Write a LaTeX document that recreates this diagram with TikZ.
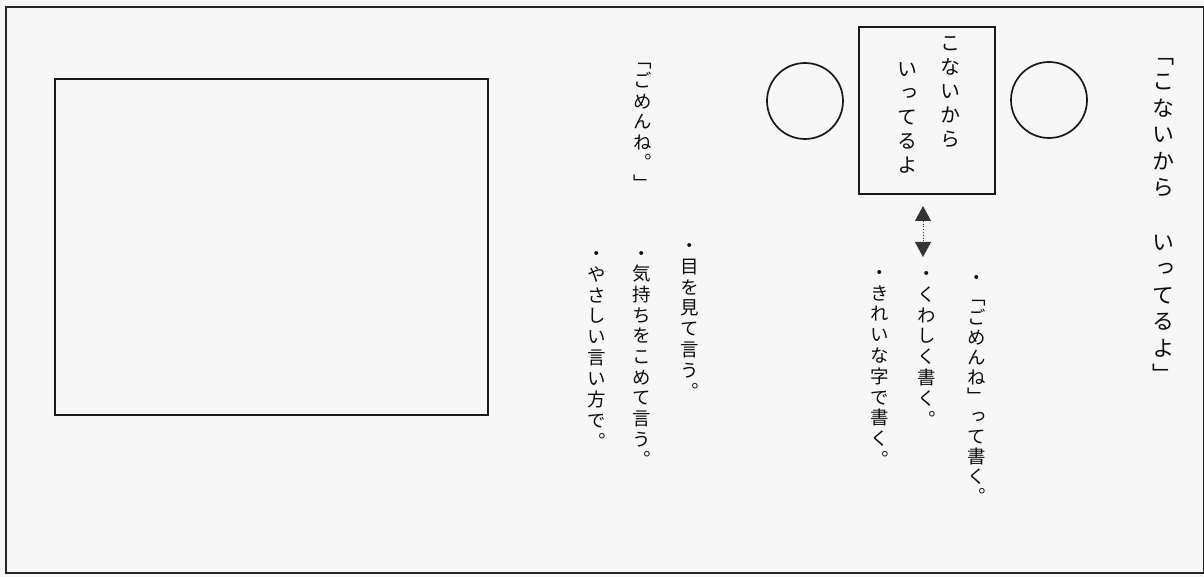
\documentclass[tikz,border=0pt]{standalone}
\usepackage{fontspec}
\newfontfamily\jpv[RawFeature=+vert]{Noto Sans CJK JP}
\usetikzlibrary{arrows.meta}
% one vertical column: name, x, top of first cell, pitch, font size, characters
\newcommand\jvcol[6]{%
  \foreach \ch [count=\i] in {#6}{%
    \node[vchar, font=\jpv\fontsize{#5pt}{#5pt}\selectfont]
      (#1-\i) at ({#2},{#3+(\i-1)*#4+0.88*#5}) {\ch};
  }}
\begin{document}
\begin{tikzpicture}[x=1pt,y=-1pt,
  outerframe/.style={draw=black!85, line width=2pt},
  shapeline/.style={draw=black!90, line width=1.7pt, inner sep=0pt},
  vchar/.style={anchor=base, inner sep=0pt, text=black!95},
  dblarrow/.style={dotted, line width=0.8pt, black!80,
    {Triangle[length=15pt,width=16pt]}-{Triangle[length=15pt,width=16pt]}}
]
% canvas
\fill[black!3] (0,0) rectangle (1204,577);
\useasboundingbox (0,0) rectangle (1204,577);
\node[outerframe, anchor=north west, minimum width=1198pt, minimum height=566pt, inner sep=0pt] (frame) at (4.5,6) {};

% left picture box
\node[shapeline, anchor=north west, minimum width=433pt, minimum height=336pt] (pic) at (54,78) {};

% circles and central box
\node[shapeline, circle, minimum size=76pt] (lcirc) at (805,101) {};
\node[shapeline, circle, minimum size=76pt] (rcirc) at (1049,100) {};
\node[shapeline, anchor=north west, minimum width=136pt, minimum height=167pt] (box) at (858,26) {};

% text inside the box
\jvcol{boxa}{950}{33}{24}{20}{こ,な,い,か,ら}
\jvcol{boxb}{907}{59}{24}{20}{い,っ,て,る,よ}

% right column
\jvcol{quotea}{1163}{44}{26.5}{22}{「,こ,な,い,か,ら}
\jvcol{quoteb}{1163}{231}{26.5}{22}{い,っ,て,る,よ,」}

% double arrow under the box
\coordinate (atop) at (923,206);
\coordinate (abot) at (923,257);
\draw[dblarrow] (atop) -- (abot);

% bullet columns (right group)
\jvcol{b1}{977}{268}{19.95}{18.5}{・,「,ご,め,ん,ね,」,っ,て,書,く,。}
\jvcol{b2}{927}{264}{20.9}{18.5}{・,く,わ,し,く,書,く,。}
\jvcol{b3}{880}{263}{20.8}{18.5}{・,き,れ,い,な,字,で,書,く,。}

% gomenne column and left group
\jvcol{gomen}{643}{51}{20.5}{18.5}{「,ご,め,ん,ね,。,」}
\jvcol{c1}{690}{236}{20.9}{18.5}{・,目,を,見,て,言,う,。}
\jvcol{c2}{642}{244}{20.65}{18.5}{・,気,持,ち,を,こ,め,て,言,う,。}
\jvcol{c3}{597}{244}{20.9}{18.5}{・,や,さ,し,い,言,い,方,で,。}
\end{tikzpicture}
\end{document}
